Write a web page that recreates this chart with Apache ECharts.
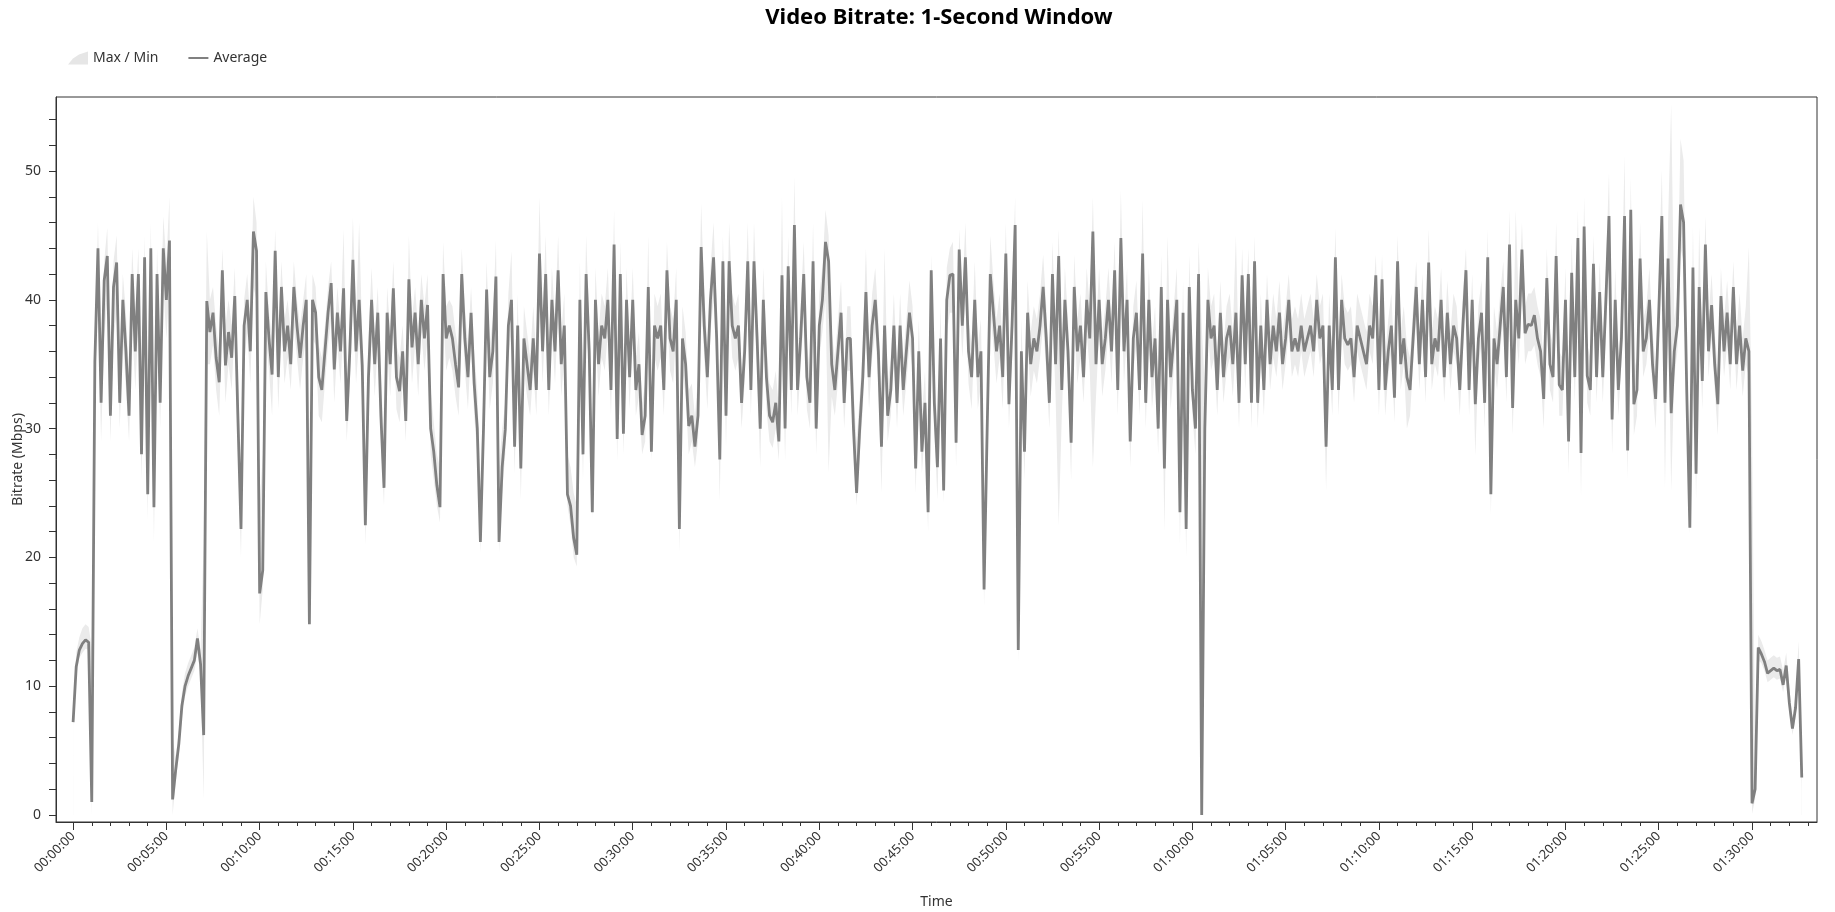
<!DOCTYPE html>
<html>
<head>
<meta charset="utf-8">
<title>Video Bitrate: 1-Second Window</title>
<script src="https://cdn.jsdelivr.net/npm/echarts/dist/echarts.min.js"></script>
<style>
  html, body { margin: 0; padding: 0; background: #fff; }
  #chart { width: 1835px; height: 912px; }
</style>
</head>
<body>
<div id="chart"></div>
<script>
// one sample every 10 s, one row per minute
const SAMPLE_SECONDS = 10

const avgMbps = [
  7.2, 11.5, 12.8, 13.3, 13.6, 13.4,
  1.0, 35.2, 44, 32, 41.5, 43.4,
  31, 41, 42.9, 32, 40, 36,
  31, 42, 36, 42, 28, 43.3,
  24.9, 44, 23.9, 42, 32, 44,
  40, 44.6, 1.2, 3.5, 5.5, 8.5,
  10, 10.8, 11.4, 12, 13.7, 11.7,
  6.2, 39.9, 37.5, 39, 35.5, 33.6,
  42.3, 34.9, 37.5, 35.5, 40.3, 30.9,
  22.2, 38, 40, 36, 45.3, 43.8,
  17.2, 19, 40.6, 37, 34.2, 43.8,
  34, 41, 36, 38, 35, 41,
  38, 35.5, 38, 40, 14.8, 40,
  39, 34, 33, 36, 39, 41.3,
  34.6, 39, 36, 40.9, 30.6, 36,
  43.1, 36, 40, 34.9, 22.5, 34,
  40, 35, 39, 31, 25.4, 39,
  35, 40.9, 34, 32.9, 36, 30.6,
  41.6, 36.3, 39, 35, 40, 37,
  39.6, 30, 28.2, 25.6, 23.9, 42,
  37, 38, 37, 35, 33.2, 42,
  37, 34, 39, 33.5, 30, 21.2,
  30, 40.8, 34, 36, 41.8, 21.2,
  27, 29.9, 38, 40, 28.6, 38,
  26.9, 37, 35, 33, 37, 33,
  43.6, 36, 42, 33, 40, 36,
  42.3, 35, 38, 24.9, 24, 21.5,
  20.2, 40, 28, 42, 36, 23.5,
  40, 35, 38, 37, 40, 33,
  44.3, 29.2, 42, 29.6, 40, 34,
  40, 33, 35, 29.5, 31, 41,
  28.2, 38, 37, 38, 33, 42.3,
  37, 36, 40, 22.2, 37, 35,
  30.2, 31, 28.6, 31, 44.1, 38,
  34, 40, 43.3, 37, 27.6, 43,
  31, 43, 38, 37, 38, 32,
  36, 43, 33, 43, 37, 30,
  40, 34, 31, 30.5, 32, 29,
  41.9, 30, 42.6, 33, 45.8, 33,
  37, 42, 34, 32, 43, 30,
  38, 40, 44.5, 43, 35, 33,
  36, 39, 32, 37, 37, 30,
  25, 30, 34, 40.6, 34, 38,
  40, 36, 28.6, 38, 31, 33,
  38, 32, 38, 33, 36, 39,
  37, 26.9, 36, 28.2, 32, 23.5,
  42.3, 32, 27, 37, 25.2, 40,
  41.9, 42, 28.9, 43.9, 38, 43.3,
  36, 34, 40, 34, 36, 17.5,
  30, 42, 39, 36, 38, 34,
  43.6, 31.9, 38, 45.8, 12.8, 36,
  28.2, 39, 35, 37, 36, 38,
  41, 37, 32, 42, 35, 43.4,
  33, 40, 36, 28.9, 41, 36,
  38, 34, 40, 37, 45.3, 35,
  40, 35, 37, 40, 36, 42.3,
  33, 44.8, 36, 40, 29, 37,
  39, 33, 43.6, 32, 40, 34,
  37, 30, 41, 26.9, 40, 34,
  37, 40, 23.5, 39, 22.2, 41,
  33, 30, 42, 0, 30, 40,
  37, 38, 33, 39, 34, 37,
  38, 35, 39, 32, 41.9, 35,
  42, 32, 43, 32, 38, 33,
  40, 35, 38, 36, 39, 35,
  37, 40, 36, 37, 36, 38,
  36, 37, 38, 36, 40, 37,
  38, 28.6, 38, 33, 43.3, 33,
  40, 37, 36.5, 37, 34, 38,
  37, 36, 35, 38, 37, 41.9,
  33, 41.6, 33, 36, 38, 32.4,
  43, 35, 37, 34, 33, 37,
  41, 35, 40, 34, 42.9, 35,
  37, 36, 40, 34, 39, 35,
  38, 37, 33, 38, 42.3, 33,
  40, 31.9, 37, 39, 32, 43.3,
  24.9, 37, 35, 38, 41, 34,
  44.3, 31.6, 40, 37, 43.9, 37.4,
  38.1, 38, 38.8, 37, 36, 32.3,
  41.7, 35, 34, 43.4, 33.4, 33,
  40, 29, 42.1, 34, 44.8, 28.1,
  45.7, 34.1, 33, 42.8, 34, 40.6,
  34, 40, 46.5, 30.7, 40, 33,
  37, 46.5, 28.3, 47, 31.9, 33,
  43.2, 36, 37, 40, 35, 32.3,
  39, 46.5, 32, 43.2, 31.2, 36,
  38, 47.4, 46, 33, 22.3, 42.5,
  26.5, 41, 33.7, 44.3, 36, 39.6,
  35, 31.9, 40.3, 36, 39, 35,
  41, 35, 38, 34.5, 37, 36,
  0.9, 2.0, 13, 12.5, 11.9, 11,
  11.2, 11.4, 11.2, 11.3, 10.1, 11.6,
  8.7, 6.7, 8.3, 12.1, 2.9
]

const maxMbps = [
  7.8, 12.6, 13.8, 14.5, 14.8, 14.6,
  13, 36.5, 46, 36, 43, 45.6,
  34, 43, 45, 35, 42, 39,
  34, 44, 39, 44, 32, 45,
  30, 46, 28, 44, 36, 46.5,
  43, 48, 6, 4.5, 6.5, 9.5,
  11, 11.8, 12.4, 13, 14.5, 12.8,
  21.5, 45.3, 40, 41, 38, 36,
  44, 38, 40, 38, 42.5, 34,
  27, 40, 42, 38.5, 48, 46,
  24, 28, 43, 39, 37, 45.5,
  37, 43, 38.5, 40, 37.5, 43,
  40, 38, 40, 42, 24, 42,
  41, 36.5, 35.5, 38, 41, 43,
  37, 41, 38, 45.5, 33, 38.5,
  46.4, 38.5, 46, 37, 28, 37,
  42.5, 37.5, 41, 34, 29, 41,
  37.5, 43, 36.5, 35.5, 38, 33,
  45, 38.5, 41, 37.5, 42, 39.5,
  42, 33, 30.5, 28, 27, 44.5,
  39.5, 40, 39.5, 37.5, 36, 44,
  39.5, 36.5, 41, 36, 33, 26,
  33, 43, 36.5, 38.5, 44.6, 27,
  30, 32, 40.5, 43.8, 31, 40.5,
  29, 39.5, 37.5, 35.5, 39.5, 35.5,
  48, 38.5, 45, 35.5, 42.5, 38.5,
  45, 37.5, 40.5, 28, 27, 25,
  24, 43, 31, 45, 38.5, 27,
  42.5, 37.5, 40.5, 39.5, 42.5, 35.5,
  47, 32, 44.5, 32, 42.5, 36.5,
  42.5, 35.5, 37.5, 32, 33.5, 45,
  31, 40.5, 39.5, 40.5, 35.5, 44.5,
  39.5, 38.5, 42.5, 27, 39.5, 37.5,
  33, 33.5, 31, 34, 47.5, 40.5,
  36.5, 42.5, 46, 39.5, 30, 45,
  34, 46, 40.5, 39.5, 40.5, 34.5,
  38.5, 46, 35.5, 46, 39.5, 33,
  42.5, 36.5, 33.5, 33, 34.5, 31.5,
  48, 33, 45, 35.5, 49.6, 35.5,
  39.5, 44.5, 36.5, 34.5, 46, 33,
  40.5, 42.5, 47, 45, 37.5, 35.5,
  38.5, 41.5, 34.5, 39.5, 39.5, 33,
  29, 32.5, 36.5, 44, 36.5, 40.5,
  42.5, 38.5, 31, 44, 33.5, 35.5,
  40.5, 34.5, 40.5, 35.5, 38.5, 41.5,
  39.5, 30, 38.5, 31, 34.5, 27,
  43.5, 34.5, 30, 39.5, 28, 42.5,
  44, 44.5, 31.5, 45.5, 40.5, 46,
  38.5, 36.5, 43, 36.5, 38.5, 24,
  33, 45, 41.5, 38.5, 40.5, 36.5,
  46, 34.5, 40.5, 48, 20, 38.5,
  31, 41.5, 37.5, 39.5, 38.5, 40.5,
  43.5, 39.5, 34.5, 44.5, 37.5, 45.5,
  35.5, 42.5, 38.5, 31.5, 43.5, 38.5,
  40.5, 36.5, 42.5, 39.5, 48, 37.5,
  42.5, 37.5, 39.5, 42.5, 38.5, 44.5,
  35.5, 48.5, 38.5, 42.5, 31.5, 39.5,
  41.5, 35.5, 47.8, 34.5, 42.5, 36.5,
  39.5, 32.5, 43.5, 30, 45, 36.5,
  39.5, 42.5, 27, 41.5, 26, 43.5,
  35.5, 32.5, 44.5, 38, 33, 42.5,
  39.5, 40.5, 35.5, 41.5, 36.5, 39.5,
  40.5, 37.5, 45, 34.5, 44, 37.5,
  44, 34.5, 45, 34.5, 40.5, 35.5,
  42, 37.5, 40.5, 38.5, 41.5, 37.5,
  39.5, 42, 38.5, 39.5, 38.5, 40.5,
  38.5, 39.5, 40.5, 38.5, 42, 39.5,
  40.5, 31, 40.5, 35.5, 45.6, 35.5,
  42, 39.5, 39, 39.5, 36.5, 40.5,
  39.5, 38.5, 37.5, 40.5, 39.5, 43.5,
  35.5, 43.5, 35.5, 38.5, 40.5, 35,
  45, 37.5, 39.5, 36.5, 35.5, 39.5,
  43, 37.5, 42, 36.5, 45.5, 37.5,
  39.5, 38.5, 42.5, 36.5, 41.5, 37.5,
  40.5, 39.5, 35.5, 40.5, 44, 35.5,
  42, 34, 39.5, 41.5, 34.5, 45.5,
  30, 39.5, 37.5, 40.5, 43, 36.5,
  47, 34, 47, 39.5, 46, 39.5,
  40.5, 40.5, 41, 39.5, 38.5, 35,
  44, 37.5, 36.5, 46, 36, 35.5,
  42.5, 32, 44.5, 36.5, 47, 31,
  48, 36.5, 35.5, 45, 36.5, 43,
  36.5, 42.5, 49.9, 33.5, 42.5, 35.5,
  39.5, 51.2, 31, 49.5, 34.5, 35.5,
  46, 38.5, 39.5, 42.5, 37.5, 35,
  41.5, 50.1, 34.5, 46, 55.2, 38.5,
  40.5, 52.5, 50.8, 36, 26, 45.7,
  30, 45.7, 36, 46.5, 38.5, 42,
  37.5, 34.5, 42.5, 38.5, 41.5, 37.5,
  43, 37.5, 40.5, 37, 39.5, 44.1,
  30, 4.5, 14, 13.5, 12.8, 12,
  12.2, 12.4, 12.2, 12.3, 11.2, 12.6,
  9.8, 7.6, 9.4, 13.5, 3.8
]

const minMbps = [
  7.0, 10.8, 12.2, 12.6, 12.9, 12.8,
  0, 33, 40, 29, 37, 40,
  29, 37, 39, 30, 37, 33,
  29, 38, 33, 38, 26, 40,
  22.9, 40, 21.2, 38, 30, 41,
  37, 41, 0, 2.5, 4.6, 7.6,
  9.2, 10, 10.6, 11.2, 12.6, 10.8,
  1.2, 35, 35, 36.5, 33, 31,
  39, 32, 35, 33, 38, 28,
  20, 35, 37.5, 33.5, 41, 40,
  14.8, 17.5, 37, 34.5, 31, 40,
  31.5, 38, 33.5, 35.5, 33, 38,
  35.5, 33, 35.5, 37, 14.3, 37,
  36.5, 31, 30.5, 33.5, 36.5, 38.5,
  32, 36.5, 33.5, 38, 29, 33.5,
  40, 33.5, 37, 32, 21, 31,
  37, 32.5, 36.5, 29, 24, 36,
  32.5, 38, 31.5, 30.5, 33.5, 29,
  38.5, 33.5, 36.5, 32.5, 37.5, 34.5,
  37, 28, 26, 24, 22.7, 39,
  34.5, 35.5, 34.5, 32.5, 31, 39,
  34.5, 31.5, 36.5, 31, 28, 20.4,
  28, 38, 31.5, 33.5, 39, 20.4,
  25, 28, 35.5, 37.5, 26.5, 35.5,
  24.5, 34.5, 32.5, 31, 34.5, 31,
  40, 33.5, 39, 31, 37.5, 33.5,
  39, 32.5, 35.5, 24, 22.5, 20,
  19.3, 37, 26, 39, 33.5, 23,
  37.5, 32.5, 35.5, 34.5, 37.5, 31,
  41, 27.5, 39, 28, 37.5, 31.5,
  37.5, 31, 32.5, 28, 29, 38,
  27.5, 35.5, 34.5, 35.5, 31, 39,
  34.5, 33.5, 37.5, 20.4, 34.5, 32.5,
  28, 29, 27, 29, 40, 35.5,
  31.5, 37.5, 40, 34.5, 24.4, 40,
  28.5, 40, 35.5, 34.5, 35.5, 30,
  33.5, 40, 31, 40, 34.5, 27,
  37.5, 31.5, 29, 28.5, 30, 27.5,
  38, 27.5, 39.5, 31, 42, 31,
  34.5, 39, 31.5, 30, 40, 28,
  35.5, 37.5, 40, 26.6, 32.5, 31,
  33.5, 36.5, 30, 34.5, 34.5, 28,
  24, 28, 31.5, 37.5, 31.5, 35.5,
  37.5, 33.5, 25, 35.5, 29, 31,
  35.5, 30, 35.5, 31, 33.5, 36.5,
  34.5, 25, 33.5, 26.5, 30, 22,
  39, 30, 24.5, 34.5, 24.2, 37.5,
  39, 39, 27, 40.5, 35.5, 40,
  33.5, 31.5, 37.5, 31.5, 33.5, 16.2,
  28, 39, 36.5, 33.5, 35.5, 31.5,
  40, 30, 35.5, 42, 11.8, 33.5,
  26, 36.5, 32.5, 34.5, 33.5, 35.5,
  38, 34.5, 30, 39, 32.5, 22.5,
  31, 37.5, 33.5, 26, 38.5, 33.5,
  35.5, 32, 37.5, 34.5, 27, 32.5,
  37.5, 32.5, 34.5, 37.5, 33.5, 39.5,
  31, 41, 33.5, 37.5, 27, 34.5,
  36.5, 31, 40, 30, 37.5, 31.5,
  34.5, 28, 38.5, 22, 37.5, 31.5,
  34.5, 37.5, 21, 36.5, 20, 38.5,
  31, 28, 39.5, 0, 28, 37.5,
  34.5, 35.5, 31, 36.5, 32, 34.5,
  35.5, 32.5, 36.5, 30, 39, 33,
  39, 30, 40, 30, 35.5, 31,
  37.5, 33, 35.5, 34, 36.5, 33,
  35, 37.5, 34, 35, 34, 36,
  34, 35, 36, 34, 37.5, 35,
  36, 25.2, 35.5, 31, 40.5, 31,
  37.5, 35, 34.5, 35, 32, 36,
  35, 34, 33, 36, 35, 39,
  31, 39, 31, 34, 36, 30.5,
  40, 33, 35, 30, 31, 35,
  38.5, 33, 37.5, 32, 40, 33,
  35, 34, 37.5, 32, 36.5, 33,
  36, 35, 31, 36, 39.5, 31,
  37.5, 27.9, 35, 36.5, 30, 40.5,
  23.3, 35, 33, 36, 38.5, 32,
  41, 29.5, 37.5, 35, 41, 35,
  36, 36, 36.5, 35, 34, 30,
  39, 33, 32, 40.5, 31, 31,
  37.5, 26.5, 39.5, 32, 41.5, 24.7,
  42.5, 32, 31, 40, 32, 38,
  32, 37.5, 43, 28, 37.5, 31,
  35, 43, 26.1, 44, 29.5, 31,
  40.5, 34, 35, 37.5, 33, 30,
  36.5, 43, 25.4, 40.5, 25.2, 34,
  36, 44, 43, 30, 21.8, 39.5,
  24.5, 38.5, 31.5, 41, 34, 37,
  33, 29.5, 38, 34, 36.5, 33,
  38.5, 33, 36, 32.5, 35, 34,
  0.1, 1.2, 12, 11.8, 11.2, 10.3,
  10.5, 10.7, 10.5, 10.6, 9.5, 10.9,
  8.0, 6.2, 7.6, 11.2, 1.8
]

// axis ticks and labels (seconds / Mbps)
const xLabelSeconds = [0, 300, 600, 900, 1200, 1500, 1800, 2100, 2400, 2700, 3000,
  3300, 3600, 3900, 4200, 4500, 4800, 5100, 5400]
const xMinorSeconds = [0, 60, 120, 180, 240, 300, 360, 420, 480, 540, 600, 660, 720, 780,
  840, 900, 960, 1020, 1080, 1140, 1200, 1260, 1320, 1380, 1440, 1500, 1560, 1620, 1680,
  1740, 1800, 1860, 1920, 1980, 2040, 2100, 2160, 2220, 2280, 2340, 2400, 2460, 2520, 2580,
  2640, 2700, 2760, 2820, 2880, 2940, 3000, 3060, 3120, 3180, 3240, 3300, 3360, 3420, 3480,
  3540, 3600, 3660, 3720, 3780, 3840, 3900, 3960, 4020, 4080, 4140, 4200, 4260, 4320, 4380,
  4440, 4500, 4560, 4620, 4680, 4740, 4800, 4860, 4920, 4980, 5040, 5100, 5160, 5220, 5280,
  5340, 5400, 5460, 5520, 5580]
const yLabelValues = [0, 10, 20, 30, 40, 50]
const yTickValues = [0, 2, 4, 6, 8, 10, 12, 14, 16, 18, 20, 22, 24, 26, 28, 30, 32, 34, 36,
  38, 40, 42, 44, 46, 48, 50, 52, 54]

const times = avgMbps.map((v, i) => i * SAMPLE_SECONDS)

function hms(sec) {
  const h = Math.floor(sec / 3600)
  const m = Math.floor((sec % 3600) / 60)
  const s = sec % 60
  return [h, m, s].map((n) => String(n).padStart(2, '0')).join(':')
}

const FONT = 'Noto Sans'
const AXIS_COLOR = '#333'
const BAND_COLOR = '#ebebeb'
const LINE_COLOR = '#808080'

const chart = echarts.init(document.getElementById('chart'))

const option = {
  animation: false,
  backgroundColor: '#fff',
  title: {
    text: 'Video Bitrate: 1-Second Window',
    left: 934,
    top: 2,
    textAlign: 'center',
    textStyle: { fontFamily: FONT, fontSize: 22, fontWeight: 'bold', color: '#000' }
  },
  legend: {
    left: 63,
    top: 46,
    itemWidth: 20,
    itemHeight: 14,
    itemGap: 30,
    textStyle: { fontFamily: FONT, fontSize: 14, color: '#333' },
    data: [
      {
        name: 'Max / Min',
        icon: 'path://M0,14 L5,8 L11,4 L20,1 L20,14 Z',
        itemStyle: { color: '#e6e6e6' }
      },
      {
        name: 'Average',
        icon: 'path://M0,0 L20,0 L20,2 L0,2 Z',
        itemStyle: { color: LINE_COLOR }
      }
    ]
  },
  grid: {
    left: 56,
    right: 18,
    top: 97,
    bottom: 90,
    outerBoundsMode: 'none',
    show: true,
    borderColor: AXIS_COLOR,
    borderWidth: 1,
    backgroundColor: 'transparent'
  },
  xAxis: [
    {
      type: 'value',
      min: -55,
      max: 5609,
      position: 'bottom',
      z: 10,
      name: 'Time',
      nameLocation: 'middle',
      nameGap: 73,
      nameMoveOverlap: false,
      nameTextStyle: { fontFamily: FONT, fontSize: 14, color: '#333' },
      axisLine: { show: true, onZero: false, lineStyle: { color: AXIS_COLOR, width: 1 } },
      axisTick: { show: true, length: 8, customValues: xLabelSeconds, lineStyle: { color: AXIS_COLOR } },
      axisLabel: {
        customValues: xLabelSeconds,
        rotate: 45,
        margin: 12,
        fontFamily: FONT,
        fontSize: 13,
        color: '#333',
        formatter: (v) => hms(v)
      },
      splitLine: { show: false }
    },
    {
      type: 'value',
      min: -55,
      max: 5609,
      position: 'bottom',
      offset: 0,
      z: 10,
      axisLine: { show: false, onZero: false },
      axisTick: { show: true, length: 4, customValues: xMinorSeconds, lineStyle: { color: AXIS_COLOR } },
      axisLabel: { show: false },
      splitLine: { show: false }
    }
  ],
  yAxis: {
    type: 'value',
    min: -0.55,
    max: 55.75,
    z: 10,
    name: 'Bitrate (Mbps)',
    nameLocation: 'middle',
    nameGap: 31,
    nameMoveOverlap: false,
    nameTextStyle: { fontFamily: FONT, fontSize: 14, color: '#333' },
    axisLine: { show: true, onZero: false, lineStyle: { color: AXIS_COLOR, width: 1 } },
    axisTick: { show: true, length: 7, customValues: yTickValues, lineStyle: { color: AXIS_COLOR } },
    axisLabel: {
      customValues: yLabelValues,
      margin: 15,
      fontFamily: FONT,
      fontSize: 14,
      color: '#333'
    },
    splitLine: { show: false }
  },
  series: [
    {
      // light envelope: filled down from the max line ...
      name: 'Max / Min',
      type: 'line',
      symbol: 'none',
      silent: true,
      itemStyle: { color: '#e6e6e6' },
      lineStyle: { width: 0, opacity: 0 },
      areaStyle: { color: BAND_COLOR, opacity: 1 },
      data: times.map((t, i) => [t, maxMbps[i]])
    },
    {
      // ... and cleared again below the min line
      name: 'band-min',
      type: 'line',
      symbol: 'none',
      silent: true,
      lineStyle: { width: 0, opacity: 0 },
      areaStyle: { color: '#ffffff', opacity: 1 },
      data: times.map((t, i) => [t, minMbps[i]])
    },
    {
      name: 'Average',
      type: 'line',
      symbol: 'none',
      itemStyle: { color: LINE_COLOR },
      lineStyle: { color: LINE_COLOR, width: 2.8 },
      data: times.map((t, i) => [t, avgMbps[i]])
    }
  ]
}

chart.setOption(option)
</script>
</body>
</html>
